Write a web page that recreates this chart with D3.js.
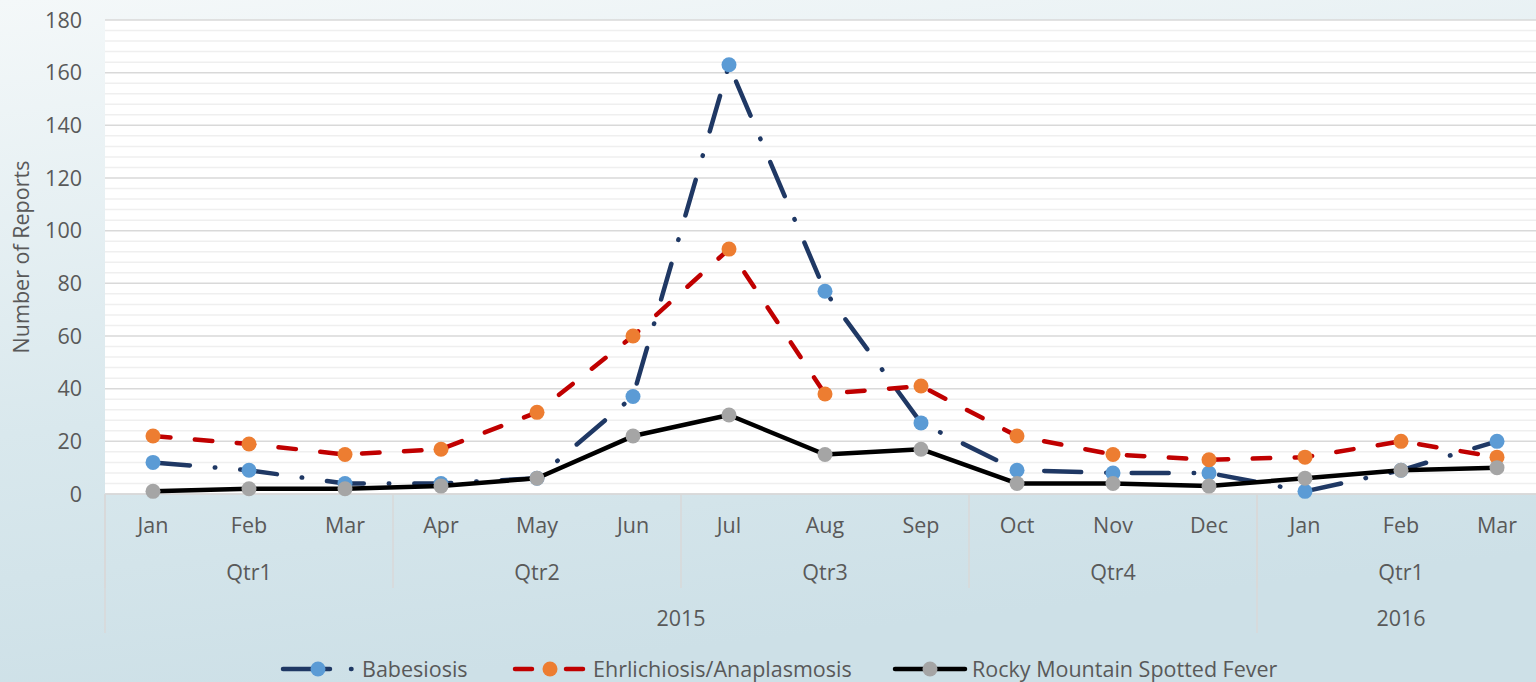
<!DOCTYPE html>
<html>
<head>
<meta charset="utf-8">
<script src="https://cdn.jsdelivr.net/npm/d3@7"></script>
<style>
  html, body { margin: 0; padding: 0; overflow: hidden; }
  body { width: 1536px; height: 682px; }
  text { font-family: "Open Sans", Lato, sans-serif; fill: #595959; }
</style>
</head>
<body>
<div id="chart"></div>
<script>
// chart data
var months = ["Jan", "Feb", "Mar", "Apr", "May", "Jun", "Jul", "Aug", "Sep", "Oct", "Nov", "Dec", "Jan", "Feb", "Mar"];
var quarterLabels = ["Qtr1", "Qtr2", "Qtr3", "Qtr4", "Qtr1"];
var quarterSpans = [3, 3, 3, 3, 3];
var yearLabels = ["2015", "2016"];
var yearSpans = [12, 3];
var babesiosis = [12, 9, 4, 4, 6, 37, 163, 77, 27, 9, 8, 8, 1, 9, 20];
var ehrlichiosis = [22, 19, 15, 17, 31, 60, 93, 38, 41, 22, 15, 13, 14, 20, 14];
var rmsf = [1, 2, 2, 3, 6, 22, 30, 15, 17, 4, 4, 3, 6, 9, 10];
var yTicks = [0, 20, 40, 60, 80, 100, 120, 140, 160, 180];

var series = [
  {name: "Babesiosis", values: babesiosis, line: "#1f3864", marker: "#5b9bd5", dash: "37 25 0.5 25"},
  {name: "Ehrlichiosis/Anaplasmosis", values: ehrlichiosis, line: "#c00000", marker: "#ed7d31", dash: "17.5 24.5"},
  {name: "Rocky Mountain Spotted Fever", values: rmsf, line: "#000000", marker: "#a5a5a5", dash: null}
];

var W = 1536, H = 682;
var plot = {left: 105, right: 1545, top: 20, bottom: 494};
var fs = 21.5;

var svg = d3.select("#chart").append("svg")
  .attr("width", W)
  .attr("height", H);

// background gradient
var grad = svg.append("defs").append("linearGradient")
  .attr("id", "bg").attr("x1", 0).attr("y1", 0).attr("x2", 0.25).attr("y2", 1);
grad.append("stop").attr("offset", "0%").attr("stop-color", "#f4f8f9");
grad.append("stop").attr("offset", "60%").attr("stop-color", "#d9e8ed");
grad.append("stop").attr("offset", "100%").attr("stop-color", "#cde0e7");
svg.append("rect").attr("width", W).attr("height", H).attr("fill", "url(#bg)");

var x = d3.scaleBand()
  .domain(d3.range(months.length))
  .range([plot.left, plot.right]);

var y = d3.scaleLinear()
  .domain([0, 180])
  .range([plot.bottom, plot.top]);

// plot area
svg.append("rect")
  .attr("x", plot.left).attr("y", plot.top)
  .attr("width", plot.right - plot.left).attr("height", plot.bottom - plot.top)
  .attr("fill", "#ffffff");

// minor gridlines
svg.append("g").selectAll("line")
  .data(d3.range(0, 181, 4).filter(function(v) { return v % 20 !== 0; }))
  .join("line")
    .attr("x1", plot.left).attr("x2", plot.right)
    .attr("y1", function(d) { return y(d); }).attr("y2", function(d) { return y(d); })
    .attr("stroke", "#efefef").attr("stroke-width", 1.5);

// major gridlines
svg.append("g").selectAll("line")
  .data(yTicks)
  .join("line")
    .attr("x1", plot.left).attr("x2", plot.right)
    .attr("y1", function(d) { return y(d); }).attr("y2", function(d) { return y(d); })
    .attr("stroke", "#d9d9d9").attr("stroke-width", 1.5);

// y tick labels
svg.append("g").selectAll("text")
  .data(yTicks)
  .join("text")
    .attr("x", 82)
    .attr("y", function(d) { return y(d); })
    .attr("dy", "0.35em")
    .attr("text-anchor", "end")
    .attr("font-size", fs)
    .text(function(d) { return d; });

// y axis title
svg.append("text")
  .attr("transform", "translate(29," + ((plot.top + plot.bottom) / 2) + ") rotate(-90)")
  .attr("text-anchor", "middle")
  .attr("font-size", fs)
  .text("Number of Reports");

// category axis: month / quarter / year levels
var rowMonth = 533, rowQtr = 580, rowYear = 626;
var qtrBottom = 588, yearBottom = 633;

svg.append("g").selectAll("text")
  .data(months)
  .join("text")
    .attr("x", function(d, i) { return x(i) + x.bandwidth() / 2; })
    .attr("y", rowMonth)
    .attr("text-anchor", "middle")
    .attr("font-size", fs)
    .text(function(d) { return d; });

function groups(labels, spans) {
  var start = 0;
  return labels.map(function(l, i) {
    var g = {label: l, start: start, end: start + spans[i]};
    start += spans[i];
    return g;
  });
}
var qGroups = groups(quarterLabels, quarterSpans);
var yGroups = groups(yearLabels, yearSpans);
var bw = x.bandwidth();

function edge(i) { return i < months.length ? x(i) : x(months.length - 1) + bw; }

var sep = svg.append("g").attr("stroke", "#d9d9d9").attr("stroke-width", 1.5);
qGroups.forEach(function(g) {
  sep.append("line").attr("x1", edge(g.start)).attr("x2", edge(g.start))
    .attr("y1", plot.bottom).attr("y2", qtrBottom);
});
yGroups.forEach(function(g) {
  sep.append("line").attr("x1", edge(g.start)).attr("x2", edge(g.start))
    .attr("y1", plot.bottom).attr("y2", yearBottom);
});
sep.append("line").attr("x1", edge(months.length)).attr("x2", edge(months.length))
  .attr("y1", plot.bottom).attr("y2", yearBottom);
sep.append("line").attr("x1", plot.left).attr("x2", plot.right)
  .attr("y1", plot.bottom).attr("y2", plot.bottom);

svg.append("g").selectAll("text")
  .data(qGroups)
  .join("text")
    .attr("x", function(g) { return (edge(g.start) + edge(g.end)) / 2; })
    .attr("y", rowQtr)
    .attr("text-anchor", "middle")
    .attr("font-size", fs)
    .text(function(g) { return g.label; });

svg.append("g").selectAll("text")
  .data(yGroups)
  .join("text")
    .attr("x", function(g) { return (edge(g.start) + edge(g.end)) / 2; })
    .attr("y", rowYear)
    .attr("text-anchor", "middle")
    .attr("font-size", fs)
    .text(function(g) { return g.label; });

// series lines and markers
var line = d3.line()
  .x(function(d, i) { return x(i) + bw / 2; })
  .y(function(d) { return y(d); });

series.forEach(function(s) {
  svg.append("path")
    .datum(s.values)
    .attr("fill", "none")
    .attr("stroke", s.line)
    .attr("stroke-width", 4.5)
    .attr("stroke-linecap", "round")
    .attr("stroke-linejoin", "round")
    .attr("stroke-dasharray", s.dash)
    .attr("d", line);
  svg.append("g").selectAll("circle")
    .data(s.values)
    .join("circle")
      .attr("cx", function(d, i) { return x(i) + bw / 2; })
      .attr("cy", function(d) { return y(d); })
      .attr("r", 7.5)
      .attr("fill", s.marker);
});

// legend
var legendX = [283, 515, 895];
var legendTextX = [79, 78, 77];
var legend = svg.append("g").selectAll("g")
  .data(series)
  .join("g")
    .attr("transform", function(d, i) { return "translate(" + legendX[i] + ",669)"; });
legend.append("line")
  .attr("x1", 0).attr("x2", 70)
  .attr("stroke", function(d) { return d.line; })
  .attr("stroke-width", 4.5)
  .attr("stroke-linecap", "round")
  .attr("stroke-dasharray", function(d) { return d.dash ? (d.name === "Babesiosis" ? "47 21 0.5 30" : "17 34 17") : null; });
legend.append("circle")
  .attr("cx", 35).attr("r", 7.5)
  .attr("fill", function(d) { return d.marker; });
legend.append("text")
  .attr("x", function(d, i) { return legendTextX[i]; })
  .attr("dy", "0.35em")
  .attr("font-size", fs)
  .text(function(d) { return d.name; });
</script>
</body>
</html>
